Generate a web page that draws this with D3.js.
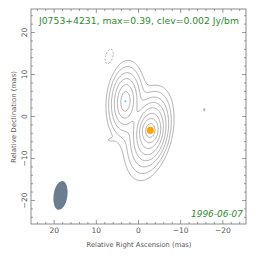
<!DOCTYPE html>
<html><head><meta charset="utf-8">
<script src="https://cdn.jsdelivr.net/npm/d3@7"></script>
<style>body{margin:0;background:#fff}svg{display:block}</style>
</head><body><svg id="c" width="264" height="262"></svg>
<script>
// ---- data ----
const titleText = "J0753+4231, max=0.39, clev=0.002 Jy/bm";
const dateText = "1996-06-07";
const xTickLabels = [20, 10, 0, -10, -20];
const yTickLabels = [20, 10, 0, -10, -20];
const minorTicks = d3.range(-24, 25, 2);
const posLevels = [0.002, 0.004, 0.008, 0.016, 0.032, 0.064, 0.128, 0.256];
const negLevels = [0.002];
// Gaussian model components (RA offset mas, Dec offset mas, peak Jy/bm, minor sigma mas, major sigma mas, PA deg)
const compX    = [-2.8, -2.8, -2.6, -2.4,  3.1,  3.1,  3.1,  3.1,   7.0, -15.6,  6.9];
const compY    = [-3.3, -3.4, -3.8, -4.3,  3.6,  3.6,  3.7,  3.8,  -5.6,   1.6, 14.2];
const compPeak = [0.24, 0.12, 0.03, 0.006, 0.045, 0.038, 0.012, 0.0026, 0.0012, 0.0024, -0.0034];
const compSMin = [1.0,  1.55, 2.0,  2.95, 0.9,  1.5,  2.0,  2.9,  0.9,  0.25, 0.95];
const compSMaj = [1.4,  2.8,  4.2,  6.5,  2.0,  3.0,  4.3,  6.5,  0.5,  0.6,  2.0];
const compPA   = [-5,  -8,  -12,  -14,   -3,   -4,   -5,   -5,    0,    0,  -15];
const coreX = -2.8, coreY = -3.3;
const compBX = 3.1, compBY = 3.6;
const beamX = 18.5, beamY = -18.8, beamMaj = 6.9, beamMin = 3.3, beamPA = -8;

// ---- scales ----
const svg = d3.select("#c");
const X = d3.scaleLinear().domain([25.5, -25.5]).range([31, 246]);
const Y = d3.scaleLinear().domain([25.6, -25.6]).range([9, 224]);

// ---- grid from model components ----
const step = 0.2, n = 256, X0 = 25.5, Y0 = 25.5;
const vals = new Float64Array(n * n);
const rad = compPA.map(a => a * Math.PI / 180);
for (let j = 0; j < n; j++) {
  const yv = Y0 - j * step;
  for (let i = 0; i < n; i++) {
    const xv = X0 - i * step;
    let s = 0;
    for (let k = 0; k < compX.length; k++) {
      const dx = xv - compX[k], dy = yv - compY[k];
      const sp = Math.sin(rad[k]), cp = Math.cos(rad[k]);
      const u = (dx * sp + dy * cp) / compSMaj[k];
      const v = (dx * cp - dy * sp) / compSMin[k];
      s += compPeak[k] * Math.exp(-0.5 * (u * u + v * v));
    }
    vals[j * n + i] = s;
  }
}
const neg = vals.map(v => -v);
const proj = d3.geoTransform({
  point(x, y) { this.stream.point(X(X0 - (x - 0.5) * step), Y(Y0 - (y - 0.5) * step)); }
});
const path = d3.geoPath(proj);

svg.append("clipPath").attr("id", "clip").append("rect")
  .attr("x", X(25.5)).attr("y", Y(25.6)).attr("width", X(-25.5) - X(25.5)).attr("height", Y(-25.6) - Y(25.6));

const g = svg.append("g").attr("clip-path", "url(#clip)");
g.selectAll("path.pos").data(d3.contours().size([n, n]).thresholds(posLevels)(vals))
  .join("path").attr("class", "pos").attr("d", path)
  .attr("fill", "none").attr("stroke", "#8c8c8c").attr("stroke-width", 0.7);
g.selectAll("path.neg").data(d3.contours().size([n, n]).thresholds(negLevels)(neg))
  .join("path").attr("class", "neg").attr("d", path)
  .attr("fill", "none").attr("stroke", "#8c8c8c").attr("stroke-width", 0.7).attr("stroke-dasharray", "2,1.5");

// component markers
g.append("circle").attr("cx", X(coreX)).attr("cy", Y(coreY)).attr("r", 3.6).attr("fill", "#ffa500");
g.append("circle").attr("cx", X(compBX)).attr("cy", Y(compBY)).attr("r", 1.1).attr("fill", "#6cc8ff");

// beam
const bx = X(beamX), by = Y(beamY);
svg.append("ellipse").attr("cx", bx).attr("cy", by)
  .attr("rx", Math.abs(X(beamMin / 2) - X(0))).attr("ry", Math.abs(Y(beamMaj / 2) - Y(0)))
  .attr("transform", `rotate(${-beamPA},${bx},${by})`)
  .attr("fill", "#6b7d90");

// frame
const fc = "#707070";
svg.append("rect").attr("x", X(25.5)).attr("y", Y(25.6)).attr("width", X(-25.5) - X(25.5)).attr("height", Y(-25.6) - Y(25.6))
  .attr("fill", "none").attr("stroke", fc).attr("stroke-width", 0.8);

const tk = svg.append("g").attr("stroke", fc).attr("stroke-width", 0.7);
const x0 = X(25.5), x1 = X(-25.5), y0 = Y(25.6), y1 = Y(-25.6);
minorTicks.forEach(t => {
  const major = t % 10 === 0, L = major ? 4 : 2;
  tk.append("line").attr("x1", X(t)).attr("x2", X(t)).attr("y1", y1).attr("y2", y1 - L);
  tk.append("line").attr("x1", X(t)).attr("x2", X(t)).attr("y1", y0).attr("y2", y0 + L);
  tk.append("line").attr("y1", Y(t)).attr("y2", Y(t)).attr("x1", x0).attr("x2", x0 + L);
  tk.append("line").attr("y1", Y(t)).attr("y2", Y(t)).attr("x1", x1).attr("x2", x1 - L);
});

const tc = "#555";
const fmt = v => v < 0 ? "\u2212" + Math.abs(v) : String(v);
svg.append("g").selectAll("text").data(xTickLabels).join("text")
  .attr("x", d => X(d)).attr("y", 233).attr("text-anchor", "middle")
  .attr("font-family", "DejaVu Sans").attr("font-size", 7.5).attr("fill", tc).text(fmt);
svg.append("g").selectAll("text").data(yTickLabels).join("text")
  .attr("transform", d => `translate(27,${Y(d)}) rotate(-90)`).attr("text-anchor", "middle")
  .attr("font-family", "DejaVu Sans").attr("font-size", 7.5).attr("fill", tc).text(fmt);

svg.append("text").attr("x", 139).attr("y", 247).attr("text-anchor", "middle")
  .attr("font-family", "DejaVu Sans").attr("font-size", 6.8).attr("fill", tc)
  .attr("textLength", 105).attr("lengthAdjust", "spacingAndGlyphs").text("Relative Right Ascension (mas)");
svg.append("text").attr("transform", "translate(16,117) rotate(-90)").attr("text-anchor", "middle")
  .attr("font-family", "DejaVu Sans").attr("font-size", 6.8).attr("fill", tc)
  .attr("textLength", 92).attr("lengthAdjust", "spacingAndGlyphs").text("Relative Declination (mas)");

svg.append("text").attr("x", 39).attr("y", 23.5)
  .attr("font-family", "DejaVu Sans").attr("font-size", 9).attr("fill", "#2e8b2e")
  .attr("textLength", 200).attr("lengthAdjust", "spacingAndGlyphs").text(titleText);
svg.append("text").attr("x", 191).attr("y", 217)
  .attr("font-family", "DejaVu Sans").attr("font-style", "italic").attr("font-size", 8).attr("fill", "#2e8b2e")
  .attr("textLength", 52).attr("lengthAdjust", "spacingAndGlyphs").text(dateText);
</script></body></html>
